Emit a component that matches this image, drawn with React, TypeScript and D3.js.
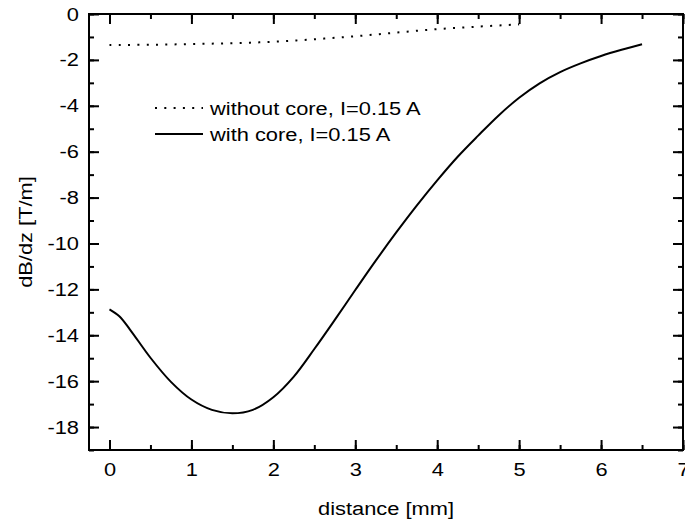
import React from "react";
import * as d3 from "d3";

// distance [mm] and dB/dz [T/m]
const withoutCoreX = [0, 0.5, 1, 1.5, 2, 2.5, 3, 3.5, 4, 4.5, 5];
const withoutCoreY = [-1.35, -1.34, -1.31, -1.27, -1.21, -1.1, -0.97, -0.81, -0.66, -0.55, -0.45];

const withCoreX = [0, 0.12, 0.25, 0.5, 0.75, 1, 1.25, 1.5, 1.75, 2, 2.25, 2.5, 2.75, 3, 3.25, 3.5, 3.75, 4, 4.25, 4.5, 4.75, 5, 5.25, 5.5, 5.75, 6, 6.25, 6.5];
const withCoreY = [-12.87, -13.17, -13.75, -14.98, -16.03, -16.8, -17.25, -17.4, -17.25, -16.7, -15.8, -14.6, -13.33, -12.03, -10.75, -9.52, -8.35, -7.25, -6.22, -5.3, -4.42, -3.65, -3.02, -2.53, -2.15, -1.83, -1.56, -1.32];

const xTicks = [0, 1, 2, 3, 4, 5, 6, 7];
const yTicks = [0, -2, -4, -6, -8, -10, -12, -14, -16, -18];
const legendLabels = ["without core, I=0.15 A", "with core, I=0.15 A"];

const App = () => {
  // -- STATE --
  const svgRef = React.useRef(null);
  const width = 685;
  const height = 524;
  const m = { left: 89, top: 14, right: 683, bottom: 450 };
  const font = "'Liberation Sans', Arial, sans-serif";
  const stretch = 1.15; // the original type is a bit wider than Arial

  // -- LIFECYCLE --
  React.useEffect(() => {
    const svg = d3.select(svgRef.current);
    svg.selectAll("*").remove();

    const x = d3.scaleLinear().domain([-0.25, 7]).range([m.left, m.right]);
    const y = d3.scaleLinear().domain([-19, 0]).range([m.bottom, m.top]);

    const minorX = d3.range(0, 7.01, 0.5);
    const minorY = d3.range(-19, 0.01, 1);

    const styleAxis = (g) => {
      g.select(".domain").remove();
      g.selectAll("line").attr("stroke", "#000").attr("stroke-width", 2);
      g.selectAll("text")
        .attr("font-family", font)
        .attr("font-size", 19)
        .attr("fill", "#000")
        .attr("x", function () {
          return +d3.select(this).attr("x") / stretch;
        })
        .attr("transform", `scale(${stretch},1)`);
    };

    // minor ticks, all four sides
    svg.append("g").attr("transform", `translate(0,${m.bottom})`)
      .call(d3.axisBottom(x).tickValues(minorX).tickSize(-5).tickFormat(() => ""))
      .call(styleAxis);
    svg.append("g").attr("transform", `translate(0,${m.top})`)
      .call(d3.axisTop(x).tickValues(minorX).tickSize(-5).tickFormat(() => ""))
      .call(styleAxis);
    svg.append("g").attr("transform", `translate(${m.left},0)`)
      .call(d3.axisLeft(y).tickValues(minorY).tickSize(-5).tickFormat(() => ""))
      .call(styleAxis);
    svg.append("g").attr("transform", `translate(${m.right},0)`)
      .call(d3.axisRight(y).tickValues(minorY).tickSize(-5).tickFormat(() => ""))
      .call(styleAxis);

    // major ticks
    svg.append("g").attr("transform", `translate(0,${m.bottom})`)
      .call(d3.axisBottom(x).tickValues(xTicks).tickSize(-10).tickPadding(13).tickFormat(d3.format("d")))
      .call(styleAxis);
    svg.append("g").attr("transform", `translate(0,${m.top})`)
      .call(d3.axisTop(x).tickValues(xTicks).tickSize(-10).tickFormat(() => ""))
      .call(styleAxis);
    svg.append("g").attr("transform", `translate(${m.left},0)`)
      .call(d3.axisLeft(y).tickValues(yTicks).tickSize(-10).tickPadding(10).tickFormat((d) => String(d)))
      .call(styleAxis);
    svg.append("g").attr("transform", `translate(${m.right},0)`)
      .call(d3.axisRight(y).tickValues(yTicks).tickSize(-10).tickFormat(() => ""))
      .call(styleAxis);

    // frame
    svg.append("rect")
      .attr("x", m.left)
      .attr("y", m.top)
      .attr("width", m.right - m.left)
      .attr("height", m.bottom - m.top)
      .attr("fill", "none")
      .attr("stroke", "#000")
      .attr("stroke-width", 2);

    // series
    const line = d3.line().x((d) => x(d[0])).y((d) => y(d[1])).curve(d3.curveCatmullRom.alpha(0.5));
    svg.append("path")
      .datum(withoutCoreX.map((v, i) => [v, withoutCoreY[i]]))
      .attr("d", line)
      .attr("fill", "none")
      .attr("stroke", "#000")
      .attr("stroke-width", 2)
      .attr("stroke-dasharray", "2 7.3");
    svg.append("path")
      .datum(withCoreX.map((v, i) => [v, withCoreY[i]]))
      .attr("d", line)
      .attr("fill", "none")
      .attr("stroke", "#000")
      .attr("stroke-width", 2);

    // legend
    const legend = svg.append("g").attr("transform", "translate(155,108)");
    legend.selectAll("line")
      .data(legendLabels)
      .enter()
      .append("line")
      .attr("x1", 0)
      .attr("x2", 48)
      .attr("y1", (d, i) => i * 26)
      .attr("y2", (d, i) => i * 26)
      .attr("stroke", "#000")
      .attr("stroke-width", 2)
      .attr("stroke-dasharray", (d, i) => (i === 0 ? "2 7.3" : null));
    legend.selectAll("text")
      .data(legendLabels)
      .enter()
      .append("text")
      .attr("transform", (d, i) => `translate(55,${i * 26}) scale(${stretch},1)`)
      .attr("dy", "0.35em")
      .attr("font-family", font)
      .attr("font-size", 19)
      .text((d) => d);

    // axis titles
    svg.append("text")
      .attr("transform", `translate(${(m.left + m.right) / 2},515) scale(${stretch},1)`)
      .attr("text-anchor", "middle")
      .attr("font-family", font)
      .attr("font-size", 19)
      .text("distance [mm]");
    svg.append("text")
      .attr("transform", `translate(32,${(m.top + m.bottom) / 2}) rotate(-90) scale(${stretch},1)`)
      .attr("text-anchor", "middle")
      .attr("font-family", font)
      .attr("font-size", 19)
      .text("dB/dz [T/m]");
  }, []);

  // -- RENDER --
  return (
    <svg
      ref={svgRef}
      width={width}
      height={height}
      style={{ position: "absolute", left: 0, top: 0, background: "#fff" }}
    />
  );
};

export default App;
